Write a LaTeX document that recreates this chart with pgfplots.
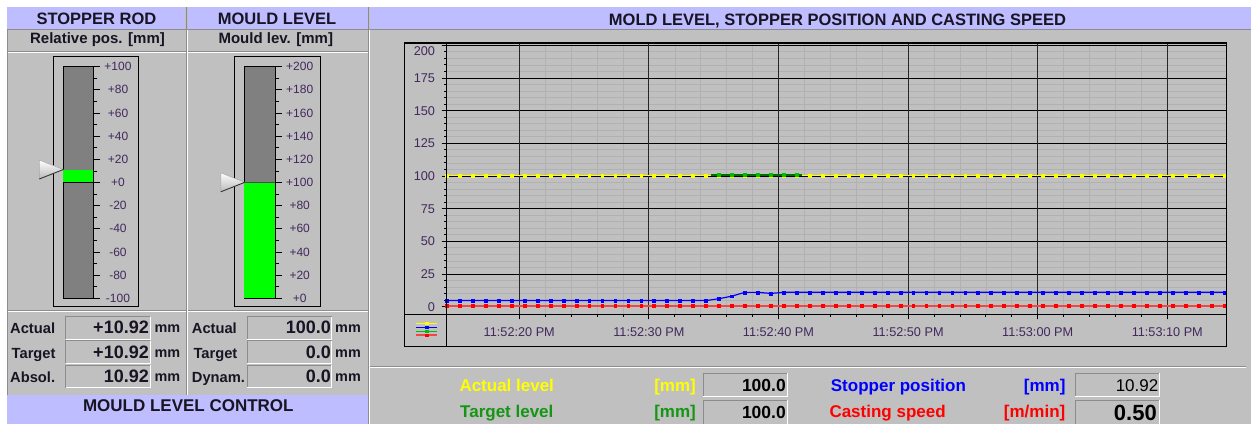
\documentclass[border=0pt]{standalone}
\usepackage{fontspec}
\setmainfont{Liberation Sans}
\usepackage{pgfplots}
\usepackage{pgfplotstable}
\pgfplotsset{compat=1.18}

\definecolor{panel}{RGB}{192,192,192}
\definecolor{lav}{RGB}{189,189,255}
\definecolor{edge}{RGB}{140,140,140}
\definecolor{gaugegray}{RGB}{128,128,128}
\definecolor{ticklab}{RGB}{66,40,92}
\definecolor{darktext}{RGB}{25,20,35}
\definecolor{minorgrid}{RGB}{177,177,177}
\definecolor{yline}{RGB}{255,255,0}
\definecolor{gline}{RGB}{0,110,0}
\definecolor{gmark}{RGB}{0,190,0}
\definecolor{bline}{RGB}{0,0,255}
\definecolor{rline}{RGB}{240,70,70}
\definecolor{rmark}{RGB}{255,0,0}
\definecolor{lblgreen}{RGB}{20,150,20}

\newcommand\fs[1]{\fontsize{#1}{#1}\selectfont}
% sunken value field
\newcommand\valbox[4]{%
  \fill[panel] (#1,#2) rectangle (#3,#4);
  \draw[edge,line width=1pt] (#1,#4) -- (#1,#2) -- (#3,#2);
  \draw[white,line width=1pt] (#3,#2) -- (#3,#4) -- (#1,#4);}
% target pointer: tip x, tip y (pixel frame)
\newcommand\pointer[2]{%
  \shade[top color=white,bottom color=gray!55] (#1,#2) -- ++(-24,-9.5) -- ++(0,19) -- cycle;
  \draw[gray!70,line width=0.5pt] (#1,#2) -- ++(-24,-9.5) -- ++(0,19);
  \draw[gray!40!black,line width=0.9pt] (#1,#2) -- ++(-24,9.5);}

% trend: t = seconds after 11:52:00 PM
\pgfplotstableread{
t    actual stopper speed
14.4 100 4.6 0.5
15.4 100 4.6 0.5
16.4 100 4.6 0.5
17.4 100 4.6 0.5
18.4 100 4.6 0.5
19.4 100 4.6 0.5
20.4 100 4.6 0.5
21.4 100 4.6 0.5
22.4 100 4.6 0.5
23.4 100 4.6 0.5
24.4 100 4.6 0.5
25.4 100 4.6 0.5
26.4 100 4.6 0.5
27.4 100 4.6 0.5
28.4 100 4.6 0.5
29.4 100 4.6 0.5
30.4 100 4.6 0.5
31.4 100 4.6 0.5
32.4 100 4.6 0.5
33.4 100 4.6 0.5
34.4 100 4.6 0.5
35.4 100 6.0 0.5
36.4 100 8.0 0.5
37.4 100 10.9 0.5
38.4 100 10.9 0.5
39.4 100 10.1 0.5
40.4 100 10.9 0.5
41.4 100 10.92 0.5
42.4 100 10.92 0.5
43.4 100 10.92 0.5
44.4 100 10.92 0.5
45.4 100 10.92 0.5
46.4 100 10.92 0.5
47.4 100 10.92 0.5
48.4 100 10.92 0.5
49.4 100 10.92 0.5
50.4 100 10.92 0.5
51.4 100 10.92 0.5
52.4 100 10.92 0.5
53.4 100 10.92 0.5
54.4 100 10.92 0.5
55.4 100 10.92 0.5
56.4 100 10.92 0.5
57.4 100 10.92 0.5
58.4 100 10.92 0.5
59.4 100 10.92 0.5
60.4 100 10.92 0.5
61.4 100 10.92 0.5
62.4 100 10.92 0.5
63.4 100 10.92 0.5
64.4 100 10.92 0.5
65.4 100 10.92 0.5
66.4 100 10.92 0.5
67.4 100 10.92 0.5
68.4 100 10.92 0.5
69.4 100 10.92 0.5
70.4 100 10.92 0.5
71.4 100 10.92 0.5
72.4 100 10.92 0.5
73.4 100 10.92 0.5
74.4 100 10.92 0.5
}\trend

\pgfplotsset{
  gauge/.style={anchor=south west, scale only axis, width=30pt, height=231.6pt,
    xmin=0, xmax=1, xtick=\empty,
    axis background/.style={fill=gaugegray},
    axis line style={black,line width=0.8pt},
    minor y tick num=1, ytick pos=right, yticklabel pos=right,
    tick align=outside, major tick length=7pt, minor tick length=4pt,
    tick style={black,line width=0.8pt},
    yticklabel style={font=\fs{12}, text=ticklab, anchor=center, xshift=17.7pt},
    clip=false},
  trend y/.style={yline,line width=1pt,mark=square*,mark size=1.4pt,mark options={fill=yline,draw=yline,line width=0.4pt}},
  trend b/.style={bline,line width=1.2pt,mark=square*,mark size=1.4pt,mark options={fill=bline,draw=bline,line width=0.4pt}},
  trend g/.style={gmark,line width=1.2pt,mark=square*,mark size=1.4pt,mark options={fill=gmark,draw=gmark,line width=0.4pt}},
  trend r/.style={rline,line width=1.6pt,mark=square*,mark size=1.4pt,mark options={fill=rmark,draw=rmark,line width=0.4pt}},
}

\begin{document}
\begin{tikzpicture}
\useasboundingbox (0,0) rectangle (1251pt,-424pt);
\fill[white] (0,0) rectangle (1251pt,-424pt);

\begin{scope}[x=1pt,y=-1pt]
  \fill[panel] (6.7,7) rectangle (1251,424);
  \fill[lav] (6.7,7) rectangle (185,28.5);
  \fill[lav] (187.7,7) rectangle (367.7,28.5);
  \fill[lav] (370,7) rectangle (1251,29);
  \fill[lav] (6.7,395) rectangle (367.7,423.5);
  % etched separators
  \draw[edge] (6.7,29.5) -- (1251,29.5);
  \draw[edge] (6.7,51.5) -- (367.7,51.5);
  \draw[white] (6.7,52.5) -- (367.7,52.5);
  \draw[edge] (6.7,310.5) -- (367.7,310.5);
  \draw[white] (6.7,311.5) -- (367.7,311.5);
  \draw[edge] (7.2,29.5) -- (7.2,395);
  \draw[edge] (185.8,7) -- (185.8,395);
  \draw[white] (186.8,29.5) -- (186.8,395);
  \draw[edge] (368.5,7) -- (368.5,424);
  \draw[white] (369.5,29.5) -- (369.5,424);
  \draw[edge] (370,366.5) -- (1246,366.5);
  \draw[white] (370,367.5) -- (1246,367.5);
  % gauge frames
  \draw[black,line width=0.8pt] (53.3,56.7) rectangle (138.7,306.7);
  \draw[black,line width=0.8pt] (234.3,56.7) rectangle (320,306.7);

  % headings
  \node[anchor=base,inner sep=0pt,font=\fs{16.5}\bfseries,text=darktext] at (96.5,24) {STOPPER ROD};
  \node[anchor=base,inner sep=0pt,font=\fs{16.5}\bfseries,text=darktext] at (277,24) {MOULD LEVEL};
  \node[anchor=base,inner sep=0pt,font=\fs{16.5}\bfseries,text=darktext] at (837.5,25) {MOLD LEVEL, STOPPER POSITION AND CASTING SPEED};
  \node[anchor=base,inner sep=0pt,font=\fs{15}\bfseries,text=darktext] at (97.5,43.3) {Relative pos. [mm]};
  \node[anchor=base,inner sep=0pt,font=\fs{15}\bfseries,text=darktext] at (275.8,43.3) {Mould lev. [mm]};
  \node[anchor=base,inner sep=0pt,font=\fs{17}\bfseries,text=darktext] at (188.3,411.7) {MOULD LEVEL CONTROL};

  % value rows, left panels
  \valbox{65.7}{316.7}{150}{339.3}
  \valbox{65.7}{340.7}{150}{363.3}
  \valbox{65.7}{365}{150}{387.7}
  \valbox{247.3}{316.7}{331.7}{339.3}
  \valbox{247.3}{340.7}{331.7}{363.3}
  \valbox{247.3}{365}{331.7}{387.7}
  \begin{scope}[every node/.style={inner sep=0pt,text=darktext}]
    \node[anchor=base west,font=\fs{14.7}\bfseries] at (10,333) {Actual};
    \node[anchor=base west,font=\fs{14.7}\bfseries] at (11.5,358) {Target};
    \node[anchor=base west,font=\fs{14.7}\bfseries] at (10,382.5) {Absol.};
    \node[anchor=base east,font=\fs{18}\bfseries] at (149,333.3) {+10.92};
    \node[anchor=base east,font=\fs{18}\bfseries] at (149,358.3) {+10.92};
    \node[anchor=base east,font=\fs{18}\bfseries] at (149,382.7) {10.92};
    \node[anchor=base west,font=\fs{14.4}\bfseries] at (154.3,332) {mm};
    \node[anchor=base west,font=\fs{14.4}\bfseries] at (154.3,357) {mm};
    \node[anchor=base west,font=\fs{14.4}\bfseries] at (154.3,381.5) {mm};
    \node[anchor=base west,font=\fs{14.7}\bfseries] at (191.7,333) {Actual};
    \node[anchor=base west,font=\fs{14.7}\bfseries] at (193.3,358) {Target};
    \node[anchor=base west,font=\fs{14.7}\bfseries] at (191.7,382.5) {Dynam.};
    \node[anchor=base east,font=\fs{18}\bfseries] at (331,333.3) {100.0};
    \node[anchor=base east,font=\fs{18}\bfseries] at (331,358.3) {0.0};
    \node[anchor=base east,font=\fs{18}\bfseries] at (331,382.7) {0.0};
    \node[anchor=base west,font=\fs{14.4}\bfseries] at (335,332) {mm};
    \node[anchor=base west,font=\fs{14.4}\bfseries] at (335,357) {mm};
    \node[anchor=base west,font=\fs{14.4}\bfseries] at (335,381.5) {mm};
  \end{scope}

  % value rows, trend panel
  \valbox{703.3}{373.3}{787.3}{396.7}
  \valbox{703.3}{400}{787.3}{424}
  \valbox{1075.3}{373.3}{1159.3}{396.7}
  \valbox{1075.3}{400}{1159.3}{424}
  \begin{scope}[every node/.style={inner sep=0pt}]
    \node[anchor=base west,font=\fs{17}\bfseries,text=yline] at (459.3,391.7) {Actual level};
    \node[anchor=base east,font=\fs{17}\bfseries,text=yline] at (696,391.7) {[mm]};
    \node[anchor=base west,font=\fs{17}\bfseries,text=lblgreen] at (460,417.5) {Target level};
    \node[anchor=base east,font=\fs{17}\bfseries,text=lblgreen] at (696,417.5) {[mm]};
    \node[anchor=base west,font=\fs{17}\bfseries,text=bline] at (830.7,391.7) {Stopper position};
    \node[anchor=base east,font=\fs{17}\bfseries,text=bline] at (1065.7,391.7) {[mm]};
    \node[anchor=base west,font=\fs{17}\bfseries,text=rmark] at (829.3,417.5) {Casting speed};
    \node[anchor=base east,font=\fs{17}\bfseries,text=rmark] at (1065.5,417.5) {[m/min]};
    \node[anchor=base east,font=\fs{17.5}\bfseries] at (786,391.7) {100.0};
    \node[anchor=base east,font=\fs{17.5}\bfseries] at (786,418) {100.0};
    \node[anchor=base east,font=\fs{17}] at (1158.5,391.2) {10.92};
    \node[anchor=base east,font=\fs{22}\bfseries] at (1157,420) {0.50};
  \end{scope}
\end{scope}

% stopper rod gauge
\begin{axis}[gauge, at={(63.3pt,-298.3pt)}, ymin=-100, ymax=100,
  ytick={-100,-80,...,100},
  yticklabels={-100,-80,-60,-40,-20,+0,+20,+40,+60,+80,+100}]
\addplot[ybar, bar width=1, fill=green, draw=none] coordinates {(0.5,10.92)};
\addplot[black, line width=1pt] coordinates {(0,0) (1,0)};
\end{axis}

% mould level gauge
\begin{axis}[gauge, at={(244.3pt,-298.3pt)}, width=30.7pt, ymin=0, ymax=200,
  ytick={0,20,...,200},
  yticklabels={+0,+20,+40,+60,+80,+100,+120,+140,+160,+180,+200}]
\addplot[ybar, bar width=1, fill=green, draw=none] coordinates {(0.5,100)};
\addplot[black!70, line width=0.8pt] coordinates {(0,100) (1,100)};
\end{axis}

% trend chart
\begin{axis}[
  at={(446.7pt,-314.3pt)}, anchor=south west,
  scale only axis, width=779.3pt, height=271pt,
  xmin=14.4, xmax=74.53, ymin=-5.9, ymax=201.5,
  axis background/.style={fill=panel},
  axis line style={black,line width=1pt},
  xtick={20,30,...,70},
  xticklabels={11:52:20 PM,11:52:30 PM,11:52:40 PM,11:52:50 PM,11:53:00 PM,11:53:10 PM},
  minor x tick num=4,
  ytick={0,25,...,200},
  yticklabels={0,25,50,75,100,125,150,175,\raisebox{-6pt}{200}},
  minor y tick num=4,
  xtick pos=bottom, ytick pos=left, tick align=outside,
  major tick length=5pt, minor tick length=2.5pt,
  tick style={black,line width=0.8pt},
  xminorgrids=true, yminorgrids=true, ymajorgrids=true, xmajorgrids=false,
  major y grid style={black,line width=0.8pt},
  minor grid style={minorgrid,line width=0.6pt},
  extra x ticks={20,30,40,50,60,70},
  extra x tick labels={},
  extra x tick style={xmajorgrids=true, major x grid style={black!85,line width=1pt}},
  ticklabel style={font=\fs{12.7}, text=ticklab},
  xticklabel style={yshift=-4.5pt},
  yticklabel style={anchor=base east, yshift=-4.5pt, xshift=-3.2pt},
  legend style={at={(-0.0407,-0.0258)}, anchor=north west, draw=none, fill=none,
    inner sep=0pt, outer sep=0pt, row sep=0pt, column sep=0pt,
    nodes={inner sep=0pt, text height=2pt, text depth=2pt}},
  legend image code/.code={\draw[mark repeat=2,mark phase=2] plot coordinates {(0pt,0pt) (10.85pt,0pt) (21.7pt,0pt)};},
]
\addplot[trend y, forget plot] table[x=t,y=actual] {\trend};
\addplot[gline, line width=1.6pt, forget plot] coordinates {(34.8,100.5) (41.85,100.5)};
\addplot[trend g, only marks, forget plot] coordinates {
  (35.4,100.8) (36.4,100.8) (37.4,100.8) (38.4,100.8) (39.4,100.8) (40.4,100.8) (41.4,100.8)};
\addplot[trend b, forget plot] table[x=t,y=stopper] {\trend};
\addplot[trend r, forget plot] table[x=t,y=speed] {\trend};
\addlegendimage{trend y}\addlegendentry{\mbox{}}
\addlegendimage{trend b}\addlegendentry{\mbox{}}
\addlegendimage{trend g}\addlegendentry{\mbox{}}
\addlegendimage{trend r}\addlegendentry{\mbox{}}
\end{axis}

\begin{scope}[x=1pt,y=-1pt]
  % gauge target pointers
  \pointer{63.3}{169.5}
  \pointer{244.8}{182.3}
  % trend frame
  \draw[black,line width=1pt] (404.7,43.3) rectangle (1226,346.7);
  \draw[black,line width=2pt] (404.2,43.3) -- (1226.5,43.3);
  \draw[black,line width=1pt] (446.7,43.3) -- (446.7,346.7);
  \draw[black,line width=1pt] (404.7,314.3) -- (1226,314.3);
\end{scope}
\end{tikzpicture}
\end{document}
